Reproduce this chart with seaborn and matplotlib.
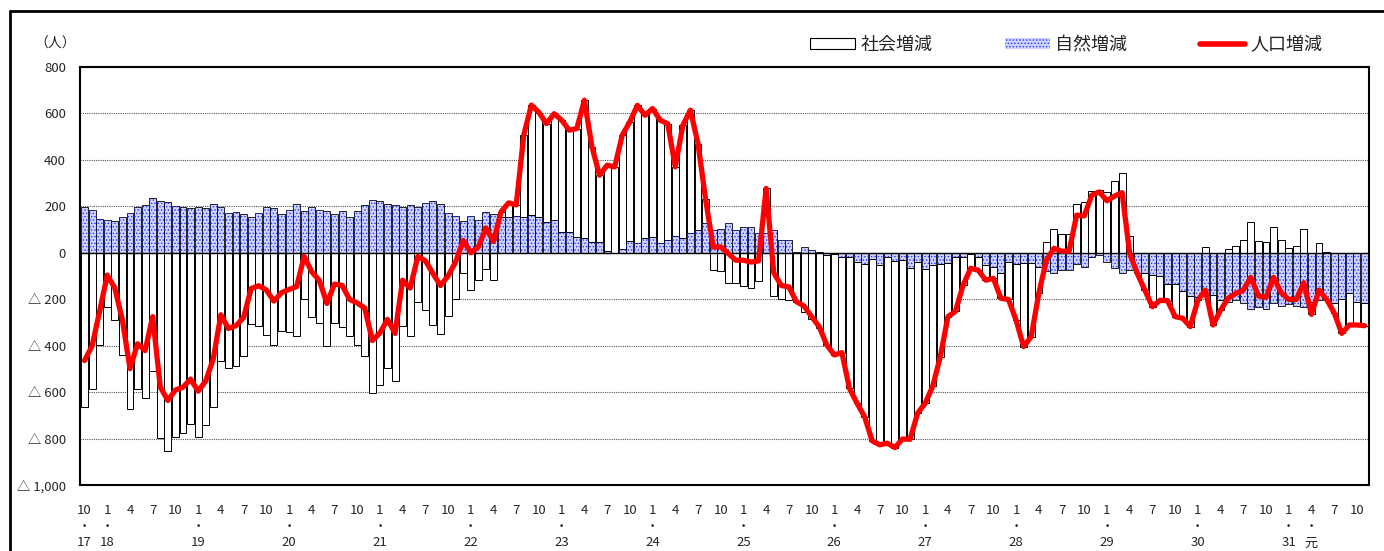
import numpy as np
import seaborn as sns
import matplotlib.pyplot as plt
from matplotlib.patches import Patch
from matplotlib.lines import Line2D

# Monthly figures from H17.10 to R1.11 (persons)
natural = [
	198, 185, 146, 139, 138, 152, 172, 196, 204, 234, 221, 217, 202, 198, 194, 198, 191, 208, 199, 172,
	174, 166, 153, 172, 196, 191, 166, 185, 212, 182,
	196, 185, 182, 169, 178, 156, 181, 206, 227, 224, 208, 205, 196, 206, 196, 214, 224, 209, 172, 159,
	138, 159, 143, 176, 168,
	153, 155, 158, 155, 161, 153, 132,
	143, 90, 90, 69, 65, 47, 47, 9, 1, 17, 50, 42, 62, 66, 44, 53, 73, 63, 85, 99, 129,
	100, 102, 129, 100, 112, 112, 85, 85, 98, 57, 57,
	3, 26, 10, 5,
	-11, -7, -20, -17, -39, -49, -27, -53, -20, -36, -32, -67, -39, -72, -53, -50, -43, -20, -18,
	-7, -17, -53, -60, -85, -39, -49, -43, -43, -60, -77, -85, -75, -75, -49, -60, -20, -10, -39, -67,
	-85, -75, -89, -89, -96,
	-102, -136, -135, -164, -185, -189, -185, -182, -204, -214, -204, -215, -240, -235, -240, -218,
	-229, -222, -229, -232, -211, -204, -204, -218, -201, -175, -211, -218,
]
social = [
	-662, -586, -397, -235, -290, -442, -671, -588, -625, -509, -799, -853, -793, -777, -738, -794,
	-743, -665, -466, -498, -488, -445, -307, -314, -356, -399, -338, -343, -358, -198,
	-278, -304, -400, -304, -318, -357, -397, -444, -605, -569, -495, -552, -314, -358, -212, -248,
	-313, -350, -272, -198, -85, -159, -118, -69, -119,
	24, 60, 48, 353, 475, 451, 424,
	456, 481, 438, 466, 592, 409, 287, 368, 369, 489, 514, 593, 530, 555, 527, 503, 297, 486, 529,
	371, 103,
	-75, -77, -132, -132, -144, -152, -120, 192, -184, -198, -204,
	-214, -255, -285, -323,
	-386, -433, -410, -567, -609, -657, -783, -774, -800, -803, -770, -736, -652, -576, -521, -397,
	-232, -232, -122,
	-60, -58, -65, -50, -111, -162, -241, -361, -318, -115, 45, 104, 82, 82, 211, 219, 268, 272, 263,
	311, 344, 72, 0, -72, -136,
	-103, -70, -140, -118, -133, -15, 24, -129, -43, 18, 29, 54, 134, 49, 48, 112, 57, 21, 28, 103,
	-54, 43, 3, -40, -146, -136, -100, -96,
]
population = [
	-464, -401, -251, -96, -152, -290, -499, -392, -421, -275, -578, -636, -591, -579, -544, -596,
	-552, -457, -267, -326, -314, -279, -154, -142, -160, -208, -172, -158, -146, -16,
	-82, -119, -218, -135, -140, -201, -216, -238, -378, -345, -287, -347, -118, -152, -16, -34,
	-89, -141, -100, -39, 53, 0, 25, 107, 49,
	177, 215, 206, 508, 636, 604, 556,
	599, 571, 528, 535, 657, 456, 334, 377, 370, 506, 564, 635, 592, 621, 571, 556, 370, 549, 614,
	470, 232,
	25, 25, -3, -32, -32, -40, -35, 277, -86, -141, -147,
	-211, -229, -275, -318,
	-397, -440, -430, -584, -648, -706, -810, -827, -820, -839, -802, -803, -691, -648, -574, -447,
	-275, -252, -140,
	-67, -75, -118, -110, -196, -201, -290, -404, -361, -175, -32, 19, 7, 7, 162, 159, 248, 262, 224,
	244, 259, -3, -89, -161, -232,
	-205, -206, -275, -282, -318, -204, -161, -311, -247, -196, -175, -161, -106, -186, -192, -106,
	-172, -201, -201, -129, -265, -161, -201, -258, -347, -311, -311, -314,
]

series_names = ["社会増減", "自然増減", "人口増減"]
start_year, start_month = 17, 10   # Heisei 17, October
era_mark = (31, 4, "元")            # tick where the Reiwa label sits
y_ticks = [800, 600, 400, 200, 0, -200, -400, -600, -800, -1000]

W, H = 1384, 551
NAT_BG = "#cdd2ff"
NAT_DOT = "#2438ff"

sns.set_style("white")
plt.rcParams["font.family"] = ["Noto Sans CJK JP", "DejaVu Sans"]
plt.rcParams["hatch.linewidth"] = 0.6

n = len(population)
x = np.arange(n)
nat = np.array(natural)
soc = np.array(social)
# stacked like the spreadsheet: positives pile up, negatives pile down
soc_bottom = np.where(soc >= 0, np.clip(nat, 0, None), np.clip(nat, None, 0))

fig = plt.figure(figsize=(W / 100, H / 100), dpi=100)
ax = fig.add_axes([80 / W, 1 - 485 / H, (1369 - 80) / W, (485 - 67) / H])

bw = 0.92
ax.bar(x, nat, width=bw, color=NAT_BG, edgecolor="black", linewidth=0.6, zorder=2)
ax.bar(x, nat, width=bw, color="none", edgecolor=NAT_DOT, hatch=".....", linewidth=0, zorder=2.1)
ax.bar(x, soc, bottom=soc_bottom, width=bw, color="white", edgecolor="black", linewidth=0.7, zorder=2)
sns.lineplot(x=x, y=population, ax=ax, color="#ff0000", linewidth=3.8, zorder=4, legend=False)
ax.axhline(0, color="black", linewidth=1.0, zorder=3)

ax.set_xlim(-0.6, n - 0.4)
ax.set_ylim(-1000, 800)
ax.set_yticks(y_ticks)
ax.set_yticklabels([f"{v:,}" if v >= 0 else f"△ {abs(v):,}" for v in y_ticks], fontsize=9.5)
ax.yaxis.grid(True, linestyle=(0, (1, 1)), color="#555555", linewidth=0.8)
ax.set_axisbelow(True)

ticks, labels = [], []
for i in range(n):
	yr = start_year + (start_month - 1 + i) // 12
	mo = (start_month - 1 + i) % 12 + 1
	if mo % 3 != 1:
		continue
	lab = str(mo)
	if i == 0 or mo == 1:
		lab += "\n・\n" + str(yr)
	elif (yr, mo) == era_mark[:2]:
		lab += "\n・\n" + era_mark[2]
	ticks.append(i)
	labels.append(lab)
ax.set_xticks(ticks)
ax.set_xticklabels(labels, fontsize=9.5, linespacing=1.3)
ax.tick_params(axis="x", length=0, pad=14)
ax.tick_params(axis="y", length=0, pad=10)
ax.set_xlabel("")
ax.set_ylabel("")

for s in ax.spines.values():
	s.set_visible(True)
	s.set_color("black")
	s.set_linewidth(1.5)

fig.text(55 / W, 1 - 44 / H, "（人）", ha="center", va="center", fontsize=10)

handles = [
	Patch(facecolor="white", edgecolor="black", linewidth=0.8),
	Patch(facecolor=NAT_BG, edgecolor=NAT_DOT, hatch=".....", linewidth=0),
	Line2D([0], [0], color="#ff0000", linewidth=4),
]
fig.legend(handles, series_names, loc="center", bbox_to_anchor=(1066 / W, 1 - 45 / H), ncol=3,
	frameon=False, fontsize=13, handlelength=2.5, handleheight=0.5, handletextpad=0.3,
	columnspacing=4.0)

# outer frame of the original sheet
fig.add_artist(Line2D([10 / W, 10 / W], [0, 1 - 11 / H], transform=fig.transFigure, color="black", linewidth=2))
fig.add_artist(Line2D([10 / W, 1], [1 - 11 / H, 1 - 11 / H], transform=fig.transFigure, color="black", linewidth=2))

fig.savefig("out.png", dpi=100)
